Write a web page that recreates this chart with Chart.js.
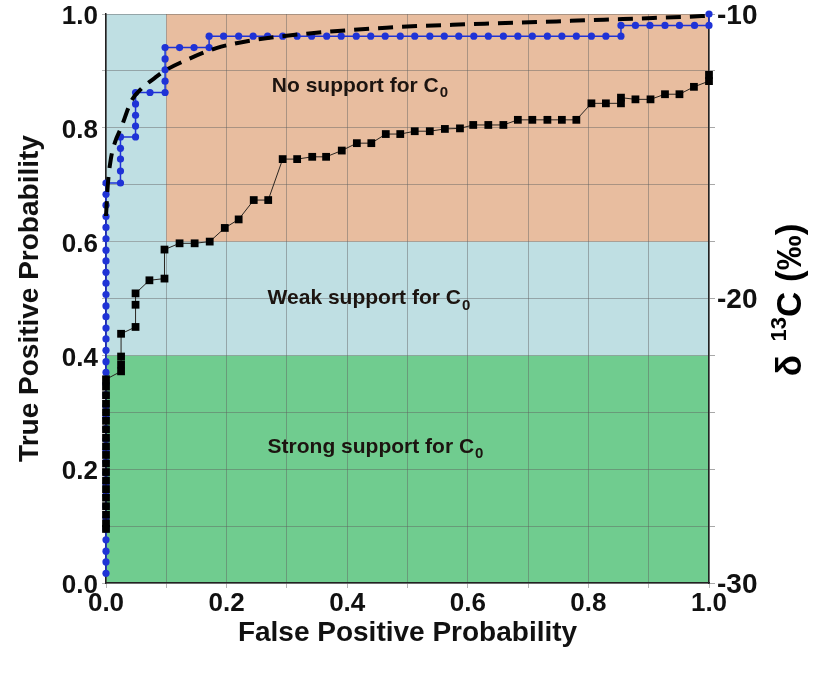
<!DOCTYPE html>
<html>
<head>
<meta charset="utf-8">
<title>ROC curves</title>
<script src="https://cdn.jsdelivr.net/npm/chart.js@4/dist/chart.umd.min.js"></script>
<style>
  body { margin: 0; background: #fff; }
  canvas { display: block; }
</style>
</head>
<body>
<canvas id="rocChart" width="817" height="674"></canvas>
<script>
// support zones: TPR thresholds and FPR cut for the "no support" box
const zoneTpr = [0.4, 0.6];
const zoneFpr = 0.1;
const zoneNames = ['Strong support for C', 'Weak support for C', 'No support for C'];

// blue ROC (dots)
const blueFpr = [
  0, 0, 0, 0, 0, 0, 0, 0, 0, 0, 0, 0, 0, 0, 0, 0, 0, 0,
  0, 0, 0, 0, 0, 0, 0, 0, 0, 0, 0, 0, 0, 0, 0, 0, 0, 0,
  0.024, 0.024, 0.024, 0.024, 0.024,
  0.049, 0.049, 0.049, 0.049, 0.049,
  0.073,
  0.098, 0.098, 0.098, 0.098, 0.098,
  0.122, 0.146, 0.171,
  0.171, 0.195, 0.220, 0.244, 0.268, 0.293, 0.317, 0.341, 0.366, 0.390,
  0.415, 0.439, 0.463, 0.488, 0.512, 0.537, 0.561, 0.585, 0.610, 0.634,
  0.659, 0.683, 0.707, 0.732, 0.756, 0.780, 0.805, 0.829, 0.854,
  0.854, 0.878, 0.902, 0.927, 0.951, 0.976, 1.0,
  1.0
];
const blueTpr = [
  0.017, 0.037, 0.056, 0.076, 0.095, 0.115, 0.135, 0.154, 0.174, 0.193, 0.213, 0.233,
  0.252, 0.272, 0.291, 0.311, 0.331, 0.350, 0.370, 0.389, 0.409, 0.429, 0.448, 0.468,
  0.487, 0.507, 0.527, 0.546, 0.566, 0.585, 0.605, 0.625, 0.644, 0.664, 0.683, 0.703,
  0.703, 0.724, 0.745, 0.764, 0.784,
  0.784, 0.803, 0.822, 0.842, 0.862,
  0.862,
  0.862, 0.882, 0.902, 0.921, 0.941,
  0.941, 0.941, 0.941,
  0.961, 0.961, 0.961, 0.961, 0.961, 0.961, 0.961, 0.961, 0.961, 0.961,
  0.961, 0.961, 0.961, 0.961, 0.961, 0.961, 0.961, 0.961, 0.961, 0.961,
  0.961, 0.961, 0.961, 0.961, 0.961, 0.961, 0.961, 0.961, 0.961,
  0.980, 0.980, 0.980, 0.980, 0.980, 0.980, 0.980,
  1.0
];

// black ROC (squares)
const blackFpr = [
  0, 0, 0, 0, 0, 0, 0, 0, 0, 0, 0, 0, 0, 0, 0, 0, 0, 0, 0,
  0.025, 0.025, 0.025, 0.025,
  0.049, 0.049, 0.049,
  0.072,
  0.097, 0.097,
  0.122, 0.147, 0.172, 0.197, 0.220, 0.245, 0.269, 0.293, 0.317, 0.342,
  0.365, 0.391, 0.416, 0.440, 0.464, 0.488, 0.512, 0.537, 0.562, 0.587,
  0.609, 0.634, 0.659, 0.683, 0.707, 0.732, 0.756, 0.780, 0.805, 0.829,
  0.854, 0.854, 0.878, 0.903, 0.927, 0.951, 0.975, 1.0, 1.0
];
const blackTpr = [
  0.095, 0.105, 0.12, 0.135, 0.15, 0.165, 0.18, 0.195, 0.21, 0.225, 0.24, 0.255,
  0.27, 0.285, 0.30, 0.315, 0.33, 0.345, 0.358,
  0.372, 0.384, 0.398, 0.438,
  0.45, 0.489, 0.509,
  0.532,
  0.535, 0.586,
  0.597, 0.597, 0.600, 0.624, 0.639, 0.673, 0.673, 0.745, 0.745, 0.749,
  0.749, 0.760, 0.773, 0.773, 0.789, 0.789, 0.794, 0.794, 0.798, 0.799,
  0.805, 0.805, 0.805, 0.814, 0.814, 0.814, 0.814, 0.814, 0.843, 0.843,
  0.843, 0.853, 0.850, 0.850, 0.859, 0.859, 0.872, 0.882, 0.893
];

// fitted ROC (dashed)
const fitFpr = [0, 0.003, 0.008, 0.015, 0.025, 0.042, 0.06, 0.08, 0.097, 0.133, 0.183, 0.25,
  0.349, 0.407, 0.465, 0.52, 0.575, 0.628, 0.69, 0.747, 0.797, 0.857, 0.907, 0.963, 1.0];
const fitTpr = [0.645, 0.70, 0.745, 0.775, 0.80, 0.847, 0.87, 0.887, 0.90, 0.919, 0.94, 0.955,
  0.967, 0.972, 0.976, 0.979, 0.981, 0.983, 0.985, 0.987, 0.989, 0.991, 0.993, 0.995, 0.997];

const toPoints = (xs, ys) => xs.map((x, i) => ({ x: x, y: ys[i] }));

const FONT = '"Liberation Sans", Arial, Helvetica, sans-serif';

// coloured support zones behind the grid
const zonesPlugin = {
  id: 'zones',
  beforeDraw(chart) {
    const { ctx, chartArea: a, scales: { x, y } } = chart;
    const yLow = y.getPixelForValue(zoneTpr[0]);
    const yHigh = y.getPixelForValue(zoneTpr[1]);
    const xCut = x.getPixelForValue(zoneFpr);
    ctx.save();
    ctx.fillStyle = '#70cc8f';
    ctx.fillRect(a.left, yLow, a.right - a.left, a.bottom - yLow);
    ctx.fillStyle = '#bfdfe3';
    ctx.fillRect(a.left, yHigh, a.right - a.left, yLow - yHigh);
    ctx.fillRect(a.left, a.top, xCut - a.left, yHigh - a.top);
    ctx.fillStyle = '#e8bd9f';
    ctx.fillRect(xCut, a.top, a.right - xCut, yHigh - a.top);
    ctx.restore();
  }
};

// zone captions with subscript 0, plus the right-hand axis title
const textPlugin = {
  id: 'captions',
  beforeDatasetsDraw(chart) {
    const { ctx, scales: { x, y } } = chart;
    const spots = [[0.268, 0.239], [0.268, 0.50], [0.275, 0.873]];
    ctx.save();
    ctx.fillStyle = '#1c1410';
    ctx.textBaseline = 'middle';
    ctx.textAlign = 'left';
    zoneNames.forEach((name, i) => {
      const px = x.getPixelForValue(spots[i][0]);
      const py = y.getPixelForValue(spots[i][1]);
      ctx.font = 'bold 21px ' + FONT;
      ctx.fillText(name, px, py);
      const w = ctx.measureText(name).width;
      ctx.font = 'bold 15px ' + FONT;
      ctx.fillText('0', px + w + 1, py + 7);
    });
    ctx.restore();
  },
  afterDraw(chart) {
    const { ctx } = chart;
    const big = 'bold 35px ' + FONT;
    const small = 'bold 22px ' + FONT;
    ctx.save();
    ctx.translate(791, 300);
    ctx.rotate(-Math.PI / 2);
    ctx.fillStyle = '#000';
    ctx.textBaseline = 'middle';
    ctx.textAlign = 'left';
    ctx.font = big;
    const w1 = ctx.measureText('δ ').width + 4;
    const w3 = ctx.measureText('C (‰)').width;
    ctx.font = small;
    const w2 = ctx.measureText('13').width;
    let cx = -(w1 + w2 + w3) / 2;
    ctx.font = big;
    ctx.fillText('δ', cx, 0);
    cx += w1;
    ctx.font = small;
    ctx.fillText('13', cx, -11);
    cx += w2;
    ctx.font = big;
    ctx.fillText('C (‰)', cx, 0);
    ctx.restore();
  }
};

const gridColor = 'rgba(95, 95, 95, 0.45)';
const tickFont = { family: FONT, size: 26, weight: 'bold' };
const titleFont = { family: FONT, size: 28, weight: 'bold' };
const evenTenths = (v) => (Math.round(v * 10) % 2 === 0 ? v.toFixed(1) : '');

// fixed axis boxes so the plot area sits where it should
const fixBox = (size) => (s) => {
  if (s.isHorizontal()) s.height = size; else s.width = size;
  s.paddingTop = 0; s.paddingBottom = 0; s.paddingLeft = 0; s.paddingRight = 0;
};

new Chart(document.getElementById('rocChart'), {
  type: 'scatter',
  data: {
    datasets: [
      {
        label: 'Fitted',
        data: toPoints(fitFpr, fitTpr),
        showLine: true,
        clip: false,
        borderColor: '#000',
        borderWidth: 4,
        borderDash: [15, 9],
        pointRadius: 0,
        cubicInterpolationMode: 'monotone'
      },
      {
        label: 'Black',
        data: toPoints(blackFpr, blackTpr),
        showLine: true,
        clip: false,
        borderColor: '#2a2520',
        borderWidth: 1,
        pointStyle: 'rect',
        pointRadius: 5.5,
        pointBackgroundColor: '#000',
        pointBorderWidth: 0
      },
      {
        label: 'Blue',
        data: toPoints(blueFpr, blueTpr),
        showLine: true,
        clip: false,
        borderColor: '#1f33d6',
        borderWidth: 1.5,
        pointRadius: 3.6,
        pointBackgroundColor: '#1f33d6',
        pointBorderWidth: 0
      }
    ]
  },
  options: {
    responsive: false,
    animation: false,
    layout: { padding: { top: 14, left: 0, right: 0, bottom: 0 } },
    plugins: { legend: { display: false }, tooltip: { enabled: false } },
    scales: {
      x: {
        type: 'linear',
        min: 0,
        max: 1,
        afterFit: fixBox(91),
        border: { color: '#222', width: 1.5 },
        grid: { color: gridColor, tickLength: 5 },
        ticks: {
          stepSize: 0.1,
          autoSkip: false,
          maxRotation: 0,
          padding: 0,
          color: '#111',
          font: tickFont,
          callback: evenTenths
        },
        title: {
          display: true,
          text: 'False Positive Probability',
          color: '#111',
          padding: { bottom: 24 },
          font: titleFont
        }
      },
      y: {
        type: 'linear',
        min: 0,
        max: 1,
        afterFit: fixBox(106),
        border: { color: '#222', width: 1.5 },
        grid: { color: gridColor, tickLength: 4 },
        ticks: {
          stepSize: 0.1,
          autoSkip: false,
          padding: 4,
          labelOffset: 3,
          color: '#111',
          font: tickFont,
          callback: evenTenths
        },
        title: {
          display: true,
          text: 'True Positive Probability',
          color: '#111',
          padding: { top: 13 },
          font: titleFont
        }
      },
      y2: {
        type: 'linear',
        position: 'right',
        min: -30,
        max: -10,
        afterFit: fixBox(108),
        border: { color: '#222', width: 1.5 },
        grid: { drawOnChartArea: false, color: 'rgba(110, 110, 110, 0.6)', tickLength: 6 },
        ticks: {
          stepSize: 2,
          autoSkip: false,
          padding: 2,
          labelOffset: 2,
          color: '#111',
          font: { family: FONT, size: 28, weight: 'bold' },
          callback: (v) => (v % 10 === 0 ? String(v) : '')
        }
      }
    }
  },
  plugins: [zonesPlugin, textPlugin]
});
</script>
</body>
</html>
